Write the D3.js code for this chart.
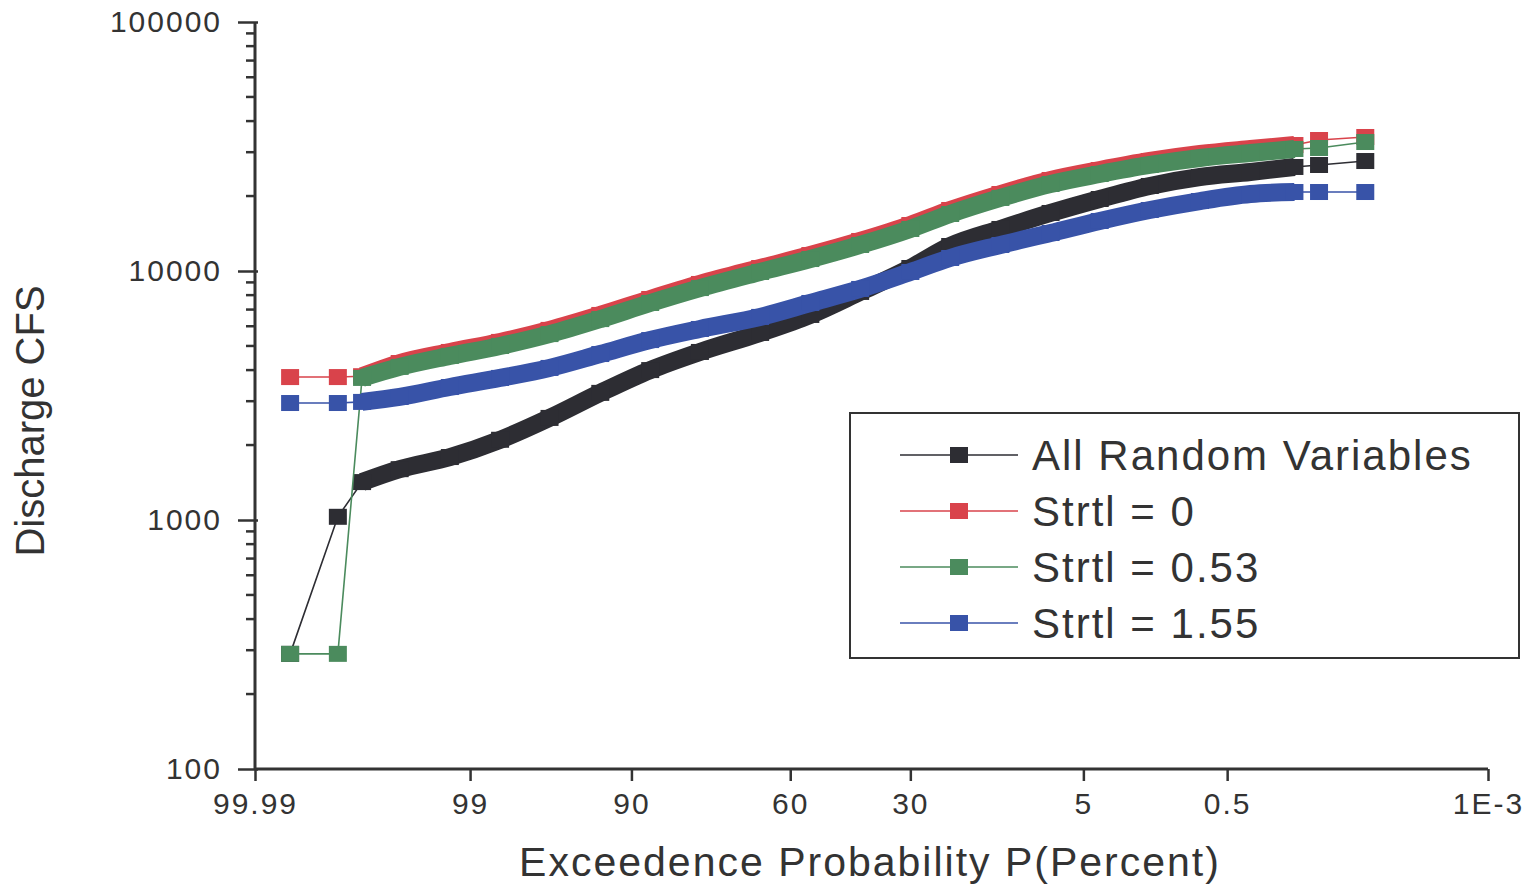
<!DOCTYPE html>
<html>
<head>
<meta charset="utf-8">
<script src="https://cdn.jsdelivr.net/npm/d3@7"></script>
<style>
  body { margin: 0; background: #fff; }
  text { font-family: "Liberation Sans", Arial, sans-serif; fill: #333; }
</style>
</head>
<body>
<div class="container"></div>
<script>
// chart size and plot box (pixels)
const width = 1530;
const height = 889;
const plot = { left: 255, right: 1488, top: 22, bottom: 769 };

// exceedence probability (percent) of each plotted point, shared by all series
const exceedProb = [99.976, 99.927, 99.876, 99.73, 99.3, 98.35, 96.5, 93.1, 87.7, 79.9, 67.3, 54.9,
  42.1, 30, 21.7, 13.4, 7.6, 4.0, 1.9, 0.82, 0.32, 0.13, 0.076, 0.026];

// discharge (cfs) for each series
const allRandomQ = [290, 1030, 1420, 1600, 1790, 2100, 2570, 3240, 4000, 4730, 5640, 6660,
  8240, 10280, 12600, 14750, 17100, 19460, 21950, 23850, 24980, 26170, 26650, 27650];
const strtl0Q = [3750, 3750, 3780, 4270, 4730, 5190, 5800, 6660, 7720, 8870, 10280, 11590,
  13200, 15300, 17580, 20380, 23200, 25440, 27660, 29510, 30900, 32060, 33580, 34530];
const strtl053Q = [290, 290, 3720, 4120, 4560, 5000, 5580, 6410, 7440, 8540, 9910, 11170,
  12720, 14750, 16940, 19650, 22360, 24520, 26660, 28440, 29780, 30900, 31190, 32960];
const strtl155Q = [2950, 2950, 2980, 3120, 3420, 3720, 4080, 4640, 5280, 5850, 6540, 7440,
  8470, 9910, 11280, 12720, 14210, 15880, 17580, 19100, 20380, 20760, 20760, 20760];

// the points between these indexes are so dense they plot as a solid band
const bandFirst = 2;
const bandLast = 21;

const seriesNames = ["All Random Variables", "Strtl = 0", "Strtl = 0.53", "Strtl = 1.55"];
const seriesColors = ["#2d2d33", "#d9434b", "#4b8b5d", "#3853a8"];
const seriesValues = [allRandomQ, strtl0Q, strtl053Q, strtl155Q];

// axis ticks
const xTickProbs = [99.99, 99, 90, 60, 30, 5, 0.5, 0.001];
const xTickLabels = ["99.99", "99", "90", "60", "30", "5", "0.5", "1E-3"];
const yTickValues = [100, 1000, 10000, 100000];

// inverse normal cdf (Acklam), used for the probability paper axis
function probit(p) {
  const a = [-3.969683028665376e+01, 2.209460984245205e+02, -2.759285104469687e+02, 1.383577518672690e+02, -3.066479806614716e+01, 2.506628277459239e+00];
  const b = [-5.447609879822406e+01, 1.615858368580409e+02, -1.556989798598866e+02, 6.680131188771972e+01, -1.328068155288572e+01];
  const c = [-7.784894002430293e-03, -3.223964580411365e-01, -2.400758277161838e+00, -2.549671464005094e+00, 4.374664141464968e+00, 2.938163982698783e+00];
  const d = [7.784695709041462e-03, 3.224671290700398e-01, 2.445134137142996e+00, 3.754408661907416e+00];
  const pl = 0.02425;
  let q, r;
  if (p < pl) {
    q = Math.sqrt(-2 * Math.log(p));
    return (((((c[0]*q+c[1])*q+c[2])*q+c[3])*q+c[4])*q+c[5]) / ((((d[0]*q+d[1])*q+d[2])*q+d[3])*q+1);
  }
  if (p > 1 - pl) {
    q = Math.sqrt(-2 * Math.log(1 - p));
    return -(((((c[0]*q+c[1])*q+c[2])*q+c[3])*q+c[4])*q+c[5]) / ((((d[0]*q+d[1])*q+d[2])*q+d[3])*q+1);
  }
  q = p - 0.5;
  r = q * q;
  return (((((a[0]*r+a[1])*r+a[2])*r+a[3])*r+a[4])*r+a[5])*q / (((((b[0]*r+b[1])*r+b[2])*r+b[3])*r+b[4])*r+1);
}

const svg = d3.select(".container")
  .append("svg")
  .attr("width", width)
  .attr("height", height)
  .attr("viewBox", [0, 0, width, height]);

// x: linear in normal quantile of the exceedence probability
const zScale = d3.scaleLinear()
  .domain([probit(0.9999), probit(0.00001)])
  .range([plot.left, plot.right]);
const x = p => zScale(probit(p / 100));

const yScale = d3.scaleLog()
  .domain([100, 100000])
  .range([plot.bottom, plot.top]);

// y axis: major ticks with labels, then minor ticks
svg.append("g")
  .attr("transform", `translate(${plot.left},0)`)
  .call(d3.axisLeft(yScale).tickValues(yTickValues).tickFormat(d3.format("d")).tickSize(17).tickPadding(16))
  .call(g => g.select(".domain").attr("stroke", "#333").attr("stroke-width", 3).attr("d", `M0,${plot.top}V${plot.bottom}`))
  .call(g => g.selectAll(".tick line").attr("stroke", "#333").attr("stroke-width", 2.5).attr("x2", -17).attr("x1", 3))
  .call(g => g.selectAll(".tick text").attr("font-size", 30).attr("letter-spacing", 2).attr("fill", "#333")
    .attr("font-family", "Liberation Sans, Arial, sans-serif"));

const minorTicks = [];
yTickValues.slice(0, -1).forEach(v => d3.range(2, 10).forEach(k => minorTicks.push(v * k)));
svg.append("g")
  .selectAll("line")
  .data(minorTicks)
  .join("line")
  .attr("x1", plot.left - 9)
  .attr("x2", plot.left)
  .attr("y1", d => yScale(d))
  .attr("y2", d => yScale(d))
  .attr("stroke", "#333")
  .attr("stroke-width", 2.5);

// x axis on the z scale, labelled with the probability
svg.append("g")
  .attr("transform", `translate(0,${plot.bottom})`)
  .call(d3.axisBottom(zScale)
    .tickValues(xTickProbs.map(p => probit(p / 100)))
    .tickFormat((d, i) => xTickLabels[i])
    .tickSize(12).tickPadding(12))
  .call(g => g.select(".domain").attr("stroke", "#333").attr("stroke-width", 3).attr("d", `M${plot.left},0H${plot.right}`))
  .call(g => g.selectAll(".tick line").attr("stroke", "#333").attr("stroke-width", 2.5))
  .call(g => g.selectAll(".tick text").attr("font-size", 30).attr("letter-spacing", 2).attr("fill", "#333")
    .attr("font-family", "Liberation Sans, Arial, sans-serif"));

// axis titles
svg.append("text")
  .attr("x", 870)
  .attr("y", 876)
  .attr("text-anchor", "middle")
  .attr("font-size", 41)
  .attr("letter-spacing", 2)
  .text("Exceedence Probability P(Percent)");

svg.append("text")
  .attr("transform", "translate(44,421) rotate(-90)")
  .attr("text-anchor", "middle")
  .attr("font-size", 40)
  .text("Discharge CFS");

// series: thin connector, dense band, square markers
const thinLine = d3.line()
  .x(d => x(d.p))
  .y(d => yScale(d.q));

const bandLine = d3.line()
  .x(d => x(d.p))
  .y(d => yScale(d.q))
  .curve(d3.curveMonotoneX);

seriesValues.forEach((values, s) => {
  const pts = values.map((q, i) => ({ p: exceedProb[i], q: q }));
  const g = svg.append("g");

  g.append("path")
    .attr("d", thinLine(pts))
    .attr("fill", "none")
    .attr("stroke", seriesColors[s])
    .attr("stroke-width", 1.6);

  g.append("path")
    .attr("d", bandLine(pts.slice(bandFirst, bandLast + 1)))
    .attr("fill", "none")
    .attr("stroke", seriesColors[s])
    .attr("stroke-width", 18);

  g.selectAll("rect")
    .data(pts)
    .join("rect")
    .attr("x", d => x(d.p) - 9)
    .attr("y", d => yScale(d.q) - 8)
    .attr("width", 18)
    .attr("height", 16)
    .attr("fill", seriesColors[s]);
});

// legend
const legend = svg.append("g");
legend.append("rect")
  .attr("x", 850)
  .attr("y", 413)
  .attr("width", 669)
  .attr("height", 245)
  .attr("fill", "#fff")
  .attr("stroke", "#333")
  .attr("stroke-width", 2);

const rows = legend.selectAll(".row")
  .data(seriesNames)
  .join("g")
  .attr("class", "row")
  .attr("transform", (d, i) => `translate(0,${455 + i * 56})`);

rows.append("line")
  .attr("x1", 900)
  .attr("x2", 1018)
  .attr("stroke", (d, i) => seriesColors[i])
  .attr("stroke-width", 1.6);

rows.append("rect")
  .attr("x", 950)
  .attr("y", -8)
  .attr("width", 18)
  .attr("height", 16)
  .attr("fill", (d, i) => seriesColors[i]);

rows.append("text")
  .attr("x", 1032)
  .attr("y", 15)
  .attr("font-size", 42)
  .attr("letter-spacing", 2)
  .text(d => d);
</script>
</body>
</html>
